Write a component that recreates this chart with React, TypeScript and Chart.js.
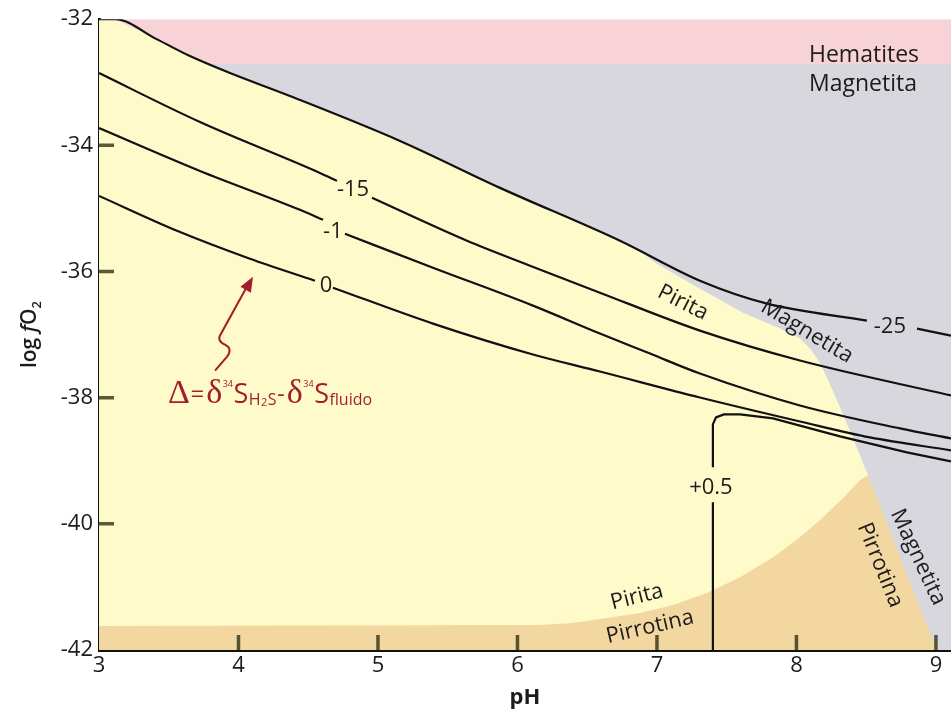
import React, { useEffect, useRef } from "react";
import { Chart, registerables } from "chart.js";

Chart.register(...registerables);

type P = [number, number | null];

// ---------- axes ----------
const X_TICKS = [3, 4, 5, 6, 7, 8, 9];
const Y_TICKS = [-32, -34, -36, -38, -40, -42];
const X_RANGE = [3, 9.108];
const Y_RANGE = [-42, -32];

// ---------- stability fields (pH, log fO2) ----------
const HEMATITE_FIELD: P[] = [[3, -32], [9.108, -32], [9.108, -32.71], [3, -32.71]];
const MAGNETITE_FIELD: P[] = [[3, -32.71], [9.108, -32.71], [9.108, -42], [3, -42]];
const PYRITE_FIELD: P[] = [
  [3, -32], [3.115, -32], [3.416, -32.32], [3.652, -32.585], [3.939, -32.854],
  [4.369, -33.218], [5.158, -33.93], [5.875, -34.674], [6.735, -35.513],
  [6.878, -35.671], [6.986, -35.861], [7.308, -36.272], [7.617, -36.652],
  [7.882, -36.905], [8.025, -37.063], [8.097, -37.222], [8.168, -37.443],
  [8.276, -37.965], [8.398, -38.598], [8.513, -39.231], [8.513, -42], [3, -42],
];
const PYRRHOTITE_FIELD: P[] = [
  [3, -41.62], [6.161, -41.604], [6.398, -41.572], [6.642, -41.494], [6.878, -41.415],
  [7.115, -41.288], [7.358, -41.098], [7.595, -40.845], [7.832, -40.528],
  [8.025, -40.212], [8.19, -39.896], [8.333, -39.595], [8.455, -39.31],
  [8.513, -39.231], [8.599, -39.706], [8.792, -40.813], [8.957, -41.731],
  [9.007, -42], [3, -42],
];

// ---------- Δ contours ----------
const CONTOUR_M25: P[] = [
  [3, -32], [3.115, -32], [3.416, -32.32], [3.652, -32.585], [3.939, -32.854],
  [4.369, -33.218], [5.158, -33.93], [5.875, -34.674], [6.735, -35.513],
  [7.308, -36.146], [7.789, -36.509], [8.505, -36.778], [8.68, null],
  [8.864, -36.905], [9.108, -37.016],
];
const CONTOUR_M15: P[] = [
  [3, -32.854], [3.724, -33.63], [4.584, -34.437], [4.706, -34.563], [4.83, null],
  [4.957, -34.832], [5.638, -35.513], [6.09, -35.908], [6.591, -36.335],
  [7.308, -36.937], [8.025, -37.411], [9.108, -37.965],
];
const CONTOUR_M1: P[] = [
  [3, -33.725], [3.724, -34.405], [4.441, -35.022], [4.606, -35.18], [4.68, null],
  [4.763, -35.402], [5.394, -35.94], [6.111, -36.541], [6.591, -36.984],
  [6.95, -37.301], [7.308, -37.617], [8.025, -38.123], [8.742, -38.487], [9.108, -38.646],
];
const CONTOUR_0: P[] = [
  [3, -34.801], [3.559, -35.354], [4.082, -35.797], [4.548, -36.146], [4.62, null],
  [4.677, -36.256], [5.394, -36.826], [6.111, -37.316], [6.591, -37.585],
  [7.308, -37.997], [8.025, -38.377], [8.527, -38.63], [9.108, -38.835],
];
const CONTOUR_P05: P[] = [
  [7.401, -42], [7.401, -39.658], [7.401, null], [7.401, -39.104], [7.401, -38.424],
  [7.423, -38.313], [7.48, -38.266], [7.595, -38.266], [7.832, -38.329],
  [8.312, -38.614], [8.792, -38.867], [9.108, -39.009],
];

// ---------- labels ----------
const CONTOUR_LABELS = [
  { text: "-25", x: 8.67, y: -36.873 },
  { text: "-15", x: 4.821, y: -34.706 },
  { text: "-1", x: 4.677, y: -35.37 },
  { text: "0", x: 4.627, y: -36.225 },
  { text: "+0.5", x: 7.387, y: -39.421 },
];
const FIELD_LABELS = [
  { text: "Pirita", x: 7.186, y: -36.494, rot: 27 },
  { text: "Magnetita", x: 8.075, y: -36.953, rot: 31 },
  { text: "Pirita", x: 6.857, y: -41.161, rot: -14 },
  { text: "Pirrotina", x: 6.95, y: -41.636, rot: -13 },
  { text: "Pirrotina", x: 8.599, y: -40.655, rot: 68 },
  { text: "Magnetita", x: 8.871, y: -40.528, rot: 65 },
];
const CORNER_LABELS = [
  { text: "Hematites", x: 8.09, y: -32.68 },
  { text: "Magnetita", x: 8.09, y: -33.139 },
];
const FORMULA_ANCHOR = { x: 3.495, y: -38.092 };
const ARROW_PATH: P[] = [
  [3.832, -37.57], [3.918, -37.348], [3.961, -37.222], [3.903, -37.158],
  [3.839, -37.095], [3.875, -36.984], [4.068, -36.209], [4.104, -36.082],
];

const SANS = "'Open Sans', sans-serif";
const SERIF = "'Liberation Serif', serif";
const RED = "#a31e2d";
const INK = "#1c1c1c";

const xy = (pts: P[]) => pts.map(([x, y]) => ({ x, y }));

const overlay = {
  id: "overlay",
  afterDatasetsDraw(chart: any) {
    const { ctx, chartArea: a, scales } = chart;
    const X = (v: number) => scales.x.getPixelForValue(v);
    const Y = (v: number) => scales.y.getPixelForValue(v);
    ctx.save();

    // inward tick marks
    ctx.strokeStyle = "rgba(45,45,15,0.78)";
    ctx.lineWidth = 3.5;
    ctx.beginPath();
    Y_TICKS.forEach((v) => {
      if (v <= Y_RANGE[0] || v >= Y_RANGE[1]) return;
      const py = Y(v);
      ctx.moveTo(a.left, py);
      ctx.lineTo(a.left + 15, py);
    });
    X_TICKS.forEach((v) => {
      if (v <= X_RANGE[0]) return;
      const px = X(v);
      ctx.moveTo(px, a.bottom);
      ctx.lineTo(px, a.bottom - 15);
    });
    ctx.stroke();

    ctx.fillStyle = INK;
    ctx.textAlign = "center";
    ctx.textBaseline = "middle";
    ctx.font = `22px ${SANS}`;
    CONTOUR_LABELS.forEach((l) => ctx.fillText(l.text, X(l.x), Y(l.y)));

    ctx.font = `22px ${SANS}`;
    FIELD_LABELS.forEach((l) => {
      ctx.save();
      ctx.translate(X(l.x), Y(l.y));
      ctx.rotate((l.rot * Math.PI) / 180);
      ctx.fillText(l.text, 0, 0);
      ctx.restore();
    });

    ctx.font = `23px ${SANS}`;
    ctx.textAlign = "left";
    ctx.textBaseline = "alphabetic";
    CORNER_LABELS.forEach((l) => ctx.fillText(l.text, X(l.x), Y(l.y)));

    // formula
    const parts = [
      { t: "Δ", f: `34px ${SERIF}`, dy: 0 },
      { t: "=", f: `24px ${SANS}`, dy: -1 },
      { t: "δ", f: `34px ${SERIF}`, dy: 0 },
      { t: "34", f: `9px ${SANS}`, dy: -16 },
      { t: "S", f: `27px ${SANS}`, dy: 0 },
      { t: "H", f: `16px ${SANS}`, dy: 2 },
      { t: "2", f: `11px ${SANS}`, dy: 3 },
      { t: "S", f: `16px ${SANS}`, dy: 2 },
      { t: "-", f: `24px ${SANS}`, dy: -1 },
      { t: "δ", f: `34px ${SERIF}`, dy: 0 },
      { t: "34", f: `9px ${SANS}`, dy: -16 },
      { t: "S", f: `27px ${SANS}`, dy: 0 },
      { t: "fluido", f: `16px ${SANS}`, dy: 2 },
    ];
    ctx.fillStyle = RED;
    let fx = X(FORMULA_ANCHOR.x);
    const fy = Y(FORMULA_ANCHOR.y);
    parts.forEach((p) => {
      ctx.font = p.f;
      ctx.fillText(p.t, fx, fy + p.dy);
      fx += ctx.measureText(p.t).width + (p.t === "=" || p.t === "-" ? 2 : 0.5);
    });

    // squiggle arrow
    const ap = ARROW_PATH.map(([x, y]) => [X(x), Y(y as number)]);
    ctx.strokeStyle = RED;
    ctx.lineWidth = 2;
    ctx.beginPath();
    ctx.moveTo(ap[0][0], ap[0][1]);
    ctx.lineTo(ap[1][0], ap[1][1]);
    ctx.quadraticCurveTo(ap[2][0], ap[2][1], ap[3][0], ap[3][1]);
    ctx.quadraticCurveTo(ap[4][0], ap[4][1], ap[5][0], ap[5][1]);
    ctx.lineTo(ap[6][0], ap[6][1]);
    ctx.stroke();
    const [tx, ty] = ap[7];
    const ang = Math.atan2(ty - ap[5][1], tx - ap[5][0]);
    ctx.fillStyle = RED;
    ctx.beginPath();
    ctx.moveTo(tx, ty);
    ctx.lineTo(tx - 15 * Math.cos(ang) + 6 * Math.sin(ang), ty - 15 * Math.sin(ang) - 6 * Math.cos(ang));
    ctx.lineTo(tx - 15 * Math.cos(ang) - 6 * Math.sin(ang), ty - 15 * Math.sin(ang) + 6 * Math.cos(ang));
    ctx.closePath();
    ctx.fill();

    // axis titles
    ctx.fillStyle = INK;
    ctx.textAlign = "center";
    ctx.textBaseline = "alphabetic";
    ctx.font = `bold 22px ${SANS}`;
    ctx.fillText("pH", (a.left + a.right) / 2, 704);

    const tparts = [
      { t: "log ", f: `600 21px ${SANS}`, dy: 0 },
      { t: "f", f: `italic 600 21px ${SANS}`, dy: 0 },
      { t: "O", f: `600 21px ${SANS}`, dy: 0 },
      { t: "2", f: `600 13px ${SANS}`, dy: 5 },
    ];
    let tw = 0;
    tparts.forEach((p) => { ctx.font = p.f; tw += ctx.measureText(p.t).width; });
    ctx.save();
    ctx.translate(36, (a.top + a.bottom) / 2);
    ctx.rotate(-Math.PI / 2);
    ctx.textAlign = "left";
    let tx2 = -tw / 2;
    tparts.forEach((p) => {
      ctx.font = p.f;
      ctx.fillText(p.t, tx2, p.dy);
      tx2 += ctx.measureText(p.t).width;
    });
    ctx.restore();

    ctx.restore();
  },
};

export default function App() {
  const ref = useRef<HTMLCanvasElement | null>(null);
  useEffect(() => {
    if (!ref.current) return;
    const field = (data: P[], color: string, order: number) => ({
      data: xy(data),
      showLine: true,
      fill: "shape",
      backgroundColor: color,
      borderColor: "transparent",
      borderWidth: 0,
      pointRadius: 0,
      tension: 0,
      order,
    });
    const contour = (data: P[], mono: boolean) => ({
      data: xy(data),
      showLine: true,
      fill: false,
      borderColor: "#111111",
      borderWidth: 2.2,
      pointRadius: 0,
      spanGaps: false,
      tension: mono ? 0.4 : 0,
      cubicInterpolationMode: mono ? "monotone" : "default",
      order: 1,
    });
    const chart = new Chart(ref.current, {
      type: "scatter",
      data: {
        datasets: [
          field(HEMATITE_FIELD, "rgb(247,211,215)", 10),
          field(MAGNETITE_FIELD, "rgb(215,215,221)", 9),
          field(PYRITE_FIELD, "rgb(255,250,201)", 8),
          field(PYRRHOTITE_FIELD, "rgb(243,215,161)", 7),
          contour(CONTOUR_M25, true),
          contour(CONTOUR_M15, true),
          contour(CONTOUR_M1, true),
          contour(CONTOUR_0, true),
          contour(CONTOUR_P05, false),
        ] as any,
      },
      options: {
        animation: false,
        responsive: false,
        events: [],
        layout: { padding: { top: 18, right: 0, left: 0, bottom: 0 } },
        plugins: { legend: { display: false }, tooltip: { enabled: false } },
        scales: {
          x: {
            type: "linear",
            min: X_RANGE[0],
            max: X_RANGE[1],
            z: 1,
            afterBuildTicks: (s: any) => { s.ticks = X_TICKS.map((value) => ({ value })); },
            afterFit: (s: any) => { s.height = 60; },
            grid: { display: true, drawOnChartArea: false, drawTicks: false },
            border: { display: true, color: "#111111", width: 3 },
            ticks: { color: INK, font: { family: SANS, size: 22 }, padding: 3, maxRotation: 0 },
          },
          y: {
            type: "linear",
            min: Y_RANGE[0],
            max: Y_RANGE[1],
            z: 1,
            afterBuildTicks: (s: any) => { s.ticks = Y_TICKS.map((value) => ({ value })); },
            afterFit: (s: any) => { s.width = 99; },
            grid: { display: true, drawOnChartArea: false, drawTicks: false },
            border: { display: true, color: "#111111", width: 3 },
            ticks: { color: INK, font: { family: SANS, size: 22 }, padding: 6 },
          },
        },
      } as any,
      plugins: [overlay],
    });
    return () => chart.destroy();
  }, []);
  return (
    <div style={{ position: "fixed", left: 0, top: 0, width: 951, height: 710, background: "#fff" }}>
      <canvas ref={ref} width={951} height={710} style={{ width: 951, height: 710, display: "block" }} />
    </div>
  );
}
